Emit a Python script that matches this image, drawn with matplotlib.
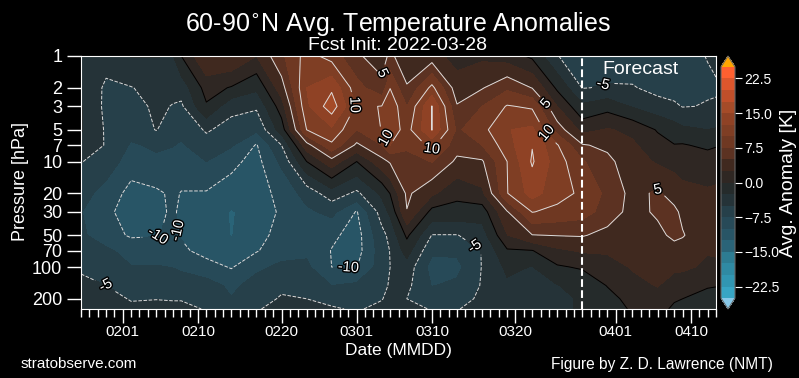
import numpy as np
import matplotlib
matplotlib.use('Agg')
import matplotlib.pyplot as plt
import matplotlib.patheffects as pe
from matplotlib.colors import ListedColormap, BoundaryNorm

plt.rcParams['font.family'] = ['Liberation Sans', 'DejaVu Sans']

# days since 0127
days = [0, 3, 6, 9, 11, 12, 15, 18, 21, 24, 27, 30, 33, 36, 37, 39, 42, 45, 48, 51, 54, 57, 60, 63, 66, 69, 71, 72, 75, 76]
pressure = [1, 2, 3, 5, 7, 10, 20, 30, 50, 70, 100, 150, 200, 250]

# one row per day, same order as pressure
anom = [
    [-4.0, -3.5, -2.3, -2.3, -3.0, -4.9, -6.5, -7.4, -7.0, -6.0, -5.3, -4.5, -4.0, -4.0],
    [-4.3, -5.3, -5.6, -5.3, -5.2, -6.0, -8.5, -9.5, -9.0, -7.0, -6.0, -5.0, -4.5, -4.3],
    [-2.4, -5.1, -5.8, -6.5, -7.8, -8.8, -10.8, -11.0, -10.3, -8.5, -7.4, -5.6, -5.1, -4.7],
    [-2.4, -4.2, -4.6, -4.9, -7.1, -8.0, -10.4, -10.5, -10.1, -9.0, -7.3, -5.5, -5.05, -4.5],
    [-2.6, -4.4, -5.1, -6.2, -7.4, -8.4, -9.6, -9.7, -9.7, -9.2, -7.6, -5.8, -5.1, -4.6],
    [0.0, -4.0, -5.4, -6.8, -7.8, -8.7, -10.1, -10.4, -10.2, -9.5, -8.0, -6.0, -5.1, -4.6],
    [5.0, 1.0, -0.3, -4.7, -6.0, -7.5, -10.2, -11.0, -11.2, -10.9, -9.0, -6.5, -5.5, -5.1],
    [4.9, -0.2, -4.2, -6.0, -7.2, -9.4, -11.0, -12.7, -12.6, -11.5, -10.2, -8.0, -7.4, -6.0],
    [2.5, -2.0, -4.6, -7.0, -10.2, -10.8, -11.0, -11.5, -11.0, -10.2, -8.0, -6.6, -5.4, -5.1],
    [7.0, 3.9, 1.3, -1.3, -5.0, -7.0, -9.3, -9.6, -9.0, -8.5, -7.0, -5.2, -4.9, -4.6],
    [11.0, 12.5, 12.0, 10.0, 4.0, 0.0, -6.5, -8.0, -8.8, -8.0, -7.0, -6.0, -5.0, -4.7],
    [9.0, 14.5, 16.5, 12.0, 9.5, 4.0, -3.6, -6.8, -9.5, -10.1, -10.0, -7.5, -5.5, -4.8],
    [5.3, 8.5, 9.5, 7.5, 4.5, 0.0, -5.5, -10.2, -11.0, -11.0, -10.1, -7.0, -6.0, -5.2],
    [4.0, 5.6, 10.1, 10.1, 7.5, 4.2, -2.0, -3.8, -5.8, -6.3, -6.3, -5.8, -5.1, -4.5],
    [5.5, 9.9, 12.0, 11.5, 10.0, 5.3, 0.1, -2.0, -4.3, -4.9, -5.0, -4.7, -4.4, -4.0],
    [3.5, 5.2, 7.5, 9.0, 8.0, 6.5, 5.5, 4.9, 0.5, -1.5, -3.5, -4.4, -5.0, -4.5],
    [3.5, 10.7, 15.1, 15.1, 10.7, 7.6, 3.0, -0.8, -5.1, -7.0, -8.5, -7.6, -5.8, -5.1],
    [1.5, 3.6, 5.2, 7.1, 6.0, 4.5, 0.6, -0.8, -5.1, -7.0, -8.2, -7.0, -5.6, -5.1],
    [2.0, 4.8, 7.5, 9.2, 7.5, 4.7, 2.0, -1.3, -3.7, -4.9, -4.9, -4.8, -4.7, -4.3],
    [1.2, 7.0, 10.2, 12.4, 11.5, 10.0, 9.9, 4.8, 2.4, -0.3, -2.0, -2.9, -3.3, -2.9],
    [-0.5, 4.9, 9.6, 13.0, 14.9, 15.3, 13.5, 10.1, 4.9, -0.1, -2.6, -3.6, -3.8, -3.4],
    [-4.9, -0.5, 2.5, 6.4, 10.2, 11.2, 11.0, 9.3, 5.1, 2.0, -0.3, -2.6, -2.7, -2.7],
    [-6.5, -5.1, -2.0, 1.7, 5.2, 7.8, 9.5, 8.6, 5.2, 2.8, 0.3, -1.8, -2.4, -2.4],
    [-6.2, -4.8, -0.9, 2.7, 4.5, 5.6, 6.9, 6.4, 4.2, 2.8, 1.5, 0.1, -0.8, -1.2],
    [-6.6, -4.8, -2.7, 1.9, 2.9, 3.6, 4.2, 4.1, 3.7, 3.2, 2.7, 1.8, 0.8, 0.3],
    [-6.3, -5.8, -4.0, -0.2, 0.9, 2.2, 5.4, 5.4, 4.3, 3.1, 2.9, 2.6, 1.8, 1.0],
    [-5.7, -6.0, -4.6, -1.4, 0.1, 1.7, 3.9, 5.6, 5.6, 4.0, 3.0, 1.4, 0.3, -0.5],
    [-5.4, -6.0, -5.1, -2.0, 0.2, 1.6, 3.1, 4.4, 5.2, 3.9, 3.0, 1.0, 0.0, -0.7],
    [-4.95, -5.2, -4.9, -2.5, -0.5, 1.2, 2.8, 3.2, 3.1, 2.7, 2.0, 0.2, -0.8, -1.2],
    [-4.6, -5.2, -4.8, -2.3, -0.2, 1.4, 2.9, 3.3, 3.2, 2.7, 2.2, 0.1, -0.9, -1.3],
]

fill_levels = np.arange(-25, 25.1, 2.5)
band_colors = ['#37a5c4', '#3196b2', '#2f8aa3', '#2d7c92', '#2a6478', '#285566', '#274a58', '#26404a', '#253338', '#252b2b',
               '#2f2723', '#40291f', '#5c3222', '#6f3822', '#7f3e24', '#8f4225', '#a54b28', '#c04f2a', '#dd562c', '#ff6030']
xticks = [5, 14, 24, 33, 42, 52, 64, 73]
xlabels = ['0201', '0210', '0220', '0301', '0310', '0320', '0401', '0410']
yticks = [1, 2, 3, 5, 7, 10, 20, 30, 50, 70, 100, 200]
cbar_ticks = [-22.5, -15, -7.5, 0, 7.5, 15, 22.5]

fig = plt.figure(figsize=(7.99, 3.78), dpi=100, facecolor='black')
ax = fig.add_axes([81/799, 1-309/378, 635/799, 253/378], facecolor='black')

# contour in log pressure so the lines stay straight between levels
X, Y = np.meshgrid(days, np.log10(pressure))
Z = np.array(anom).T

cmap = ListedColormap(band_colors)
cmap.set_under('#87c8e8')
cmap.set_over('#ffa500')
norm = BoundaryNorm(fill_levels, cmap.N)
cf = ax.contourf(X, Y, Z, levels=fill_levels, cmap=cmap, norm=norm, extend='both')

cs0 = ax.contour(X, Y, Z, levels=[0], colors='black', linewidths=0.7)
cs1 = ax.contour(X, Y, Z, levels=[-10, -5], colors='#dddddd', linewidths=0.7, linestyles='--')
cs2 = ax.contour(X, Y, Z, levels=[5, 10, 15], colors='#dddddd', linewidths=0.7)

neg_pos = [(3.1, 141), (9.2, 51), (11.7, 45), (32, 111), (47, 66), (62.5, 1.88)]
pos_pos = [(32.8, 2.9), (36, 1.45), (37, 5.7), (41.9, 8.6), (55.5, 2.9), (55.8, 5.3), (69, 18.6)]
neg_labels = ax.clabel(cs1, manual=[(d, np.log10(p)) for d, p in neg_pos], fmt='%d', fontsize=10.5, inline=True)
pos_labels = ax.clabel(cs2, manual=[(d, np.log10(p)) for d, p in pos_pos], fmt='%d', fontsize=10.5, inline=True)
for t in list(neg_labels) + list(pos_labels):
    t.set_color('white')
    t.set_path_effects([pe.withStroke(linewidth=2, foreground='black')])

ax.axvline(60, color='white', ls='--', lw=1.5)
ax.text(62.4, 0.13, 'Forecast', color='white', fontsize=14, va='center')

ax.set_ylim(np.log10(250), 0)
ax.set_xlim(0, 76)
ax.set_yticks(np.log10(yticks))
ax.set_yticklabels([str(p) for p in yticks])
ax.set_xticks(xticks)
ax.set_xticklabels(xlabels)
ax.set_xticks(np.arange(0, 77), minor=True)
ax.tick_params(axis='x', which='major', length=10, width=1, colors='white', labelsize=11, pad=1.5)
ax.tick_params(axis='x', which='minor', length=6, width=1, colors='white')
ax.tick_params(axis='y', which='major', length=10, width=1, colors='white', labelsize=13)
for s in ax.spines.values():
    s.set_color('white')

cax = fig.add_axes([721/799, 1-309/378, 14/799, 253/378])
cb = fig.colorbar(cf, cax=cax, extend='both', extendfrac=0.047, ticks=cbar_ticks)
cb.outline.set_edgecolor('#666666')
cb.dividers.set_color('#666666')
cb.dividers.set_linewidth(1)
cb.ax.tick_params(colors='white', labelsize=10, length=5, which='major', pad=2)
cb.ax.minorticks_off()
cb.set_label('Avg. Anomaly [K]', color='white', fontsize=14, labelpad=0)

fig.text(398/799, 1-24/378, '60-90$^{\\circ}$N Avg. Temperature Anomalies', color='white', fontsize=18, ha='center', va='center', math_fontfamily='dejavusans')
fig.text(398/799, 1-45/378, 'Fcst Init: 2022-03-28', color='white', fontsize=14, ha='center', va='center')
fig.text(398/799, 1-350/378, 'Date (MMDD)', color='white', fontsize=12.5, ha='center', va='center')
fig.text(21/799, 1-364/378, 'stratobserve.com', color='white', fontsize=11, va='center')
fig.text(773/799, 1-364/378, 'Figure by Z. D. Lawrence (NMT)', color='white', fontsize=11.2, ha='right', va='center')
fig.text(12/799, 1-182/378, 'Pressure [hPa]', color='white', fontsize=13, rotation=90, va='center', ha='left')

fig.savefig('out.png', dpi=100, facecolor='black')
